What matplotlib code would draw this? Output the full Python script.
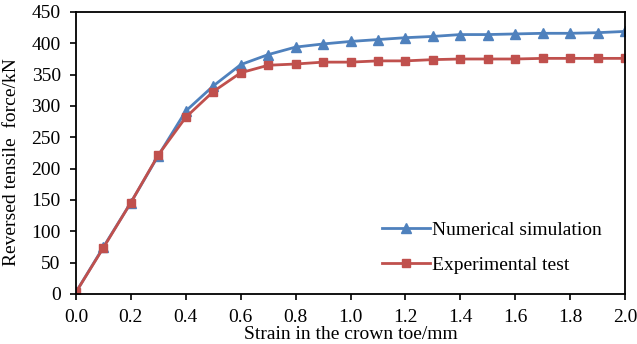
import matplotlib
matplotlib.use("Agg")
import matplotlib.pyplot as plt

strain = [0.0, 0.1, 0.2, 0.3, 0.4, 0.5, 0.6, 0.7, 0.8, 0.9, 1.0,
          1.1, 1.2, 1.3, 1.4, 1.5, 1.6, 1.7, 1.8, 1.9, 2.0]
numerical = [3, 75, 146, 221, 292, 332, 366, 382, 394, 399, 403,
             406, 409, 411, 414, 414, 415, 416, 416, 417, 419]
experimental = [3, 74, 146, 222, 282, 323, 353, 365, 367, 370, 370,
                372, 372, 374, 375, 375, 375, 376, 376, 376, 376]

plt.rcParams['font.family'] = ['Liberation Serif', 'DejaVu Serif']

fig = plt.figure(figsize=(6.37, 3.44), dpi=100)
ax = fig.add_axes([76 / 637, 50 / 344, 549 / 637, 282 / 344])

ax.plot(strain, numerical, color='#4F81BD', marker='^', markersize=7,
        linewidth=2, label='Numerical simulation')
ax.plot(strain, experimental, color='#C0504D', marker='s', markersize=6,
        linewidth=2, label='Experimental test')

ax.set_xlim(0, 2.0)
ax.set_ylim(0, 450)
ax.set_xticks([0.0, 0.2, 0.4, 0.6, 0.8, 1.0, 1.2, 1.4, 1.6, 1.8, 2.0])
ax.set_xticklabels([f"{v:.1f}" for v in ax.get_xticks()])
ax.set_yticks(range(0, 451, 50))
ax.tick_params(labelsize=14, direction='out', length=4, width=1.2)
ax.tick_params(axis='x', pad=7)
ax.tick_params(axis='y', pad=7)
for s in ax.spines.values():
    s.set_linewidth(1.3)

ax.set_xlabel('Strain in the crown toe/mm', fontsize=14)
ax.xaxis.set_label_coords(0.5, -0.112)
ax.set_ylabel('Reversed tensile  force/kN', fontsize=14)
ax.yaxis.set_label_coords(-0.102, 0.468)

ax.legend(loc='lower right', bbox_to_anchor=(0.99, 0.01), frameon=False,
          fontsize=14, handlelength=2.5, handletextpad=0.1, labelspacing=0.9)

fig.savefig('out.png', dpi=100)
